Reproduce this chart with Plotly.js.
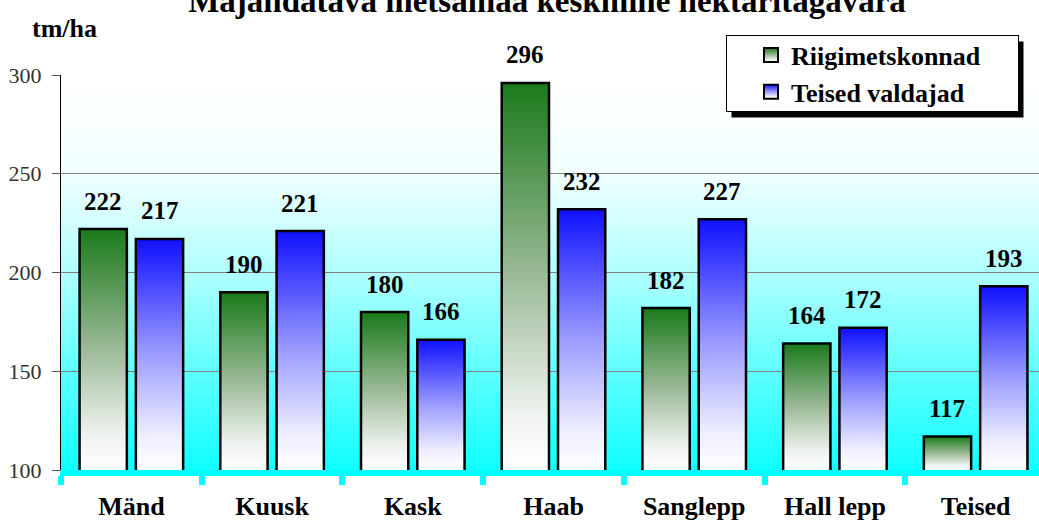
<!DOCTYPE html>
<html>
<head>
<meta charset="utf-8">
<script src="https://cdn.plot.ly/plotly-3.0.1.min.js"></script>
<style>
  html, body { margin: 0; padding: 0; overflow: hidden; background: #fff; }
  #chart { width: 1046px; height: 523px; }
</style>
</head>
<body>
<div id="chart"></div>
<script>
// ---- data ----
const categories = ['Mänd', 'Kuusk', 'Kask', 'Haab', 'Sanglepp', 'Hall lepp', 'Teised'];
const riigimetskonnad = [222, 190, 180, 296, 182, 164, 117];
const teisedValdajad = [217, 221, 166, 232, 227, 172, 193];
const seriesNames = ['Riigimetskonnad', 'Teised valdajad'];
const chartTitle = 'Majandatava metsamaa keskmine hektaritagavara';
const yUnit = 'tm/ha';
const yTicks = [100, 150, 200, 250, 300];

// ---- layout constants ----
const FONT = 'Liberation Serif, Liberation Sans, sans-serif';
const W = 1046, H = 523;
const M = { l: 61, r: 0, t: 75, b: 53 };
const BARGAP = 0.2, BARGROUPGAP = 0.16;
const plotW = W - M.l - M.r;
const plotH = H - M.t - M.b;
const catW = plotW / categories.length;
const groupShift = (1 - BARGAP) * catW / 4;

const seriesValues = [riigimetskonnad, teisedValdajad];

const traces = seriesValues.map((vals, s) => ({
  type: 'bar',
  name: seriesNames[s],
  x: categories,
  y: vals,
  marker: { color: s === 0 ? '#1e7d1e' : '#1414ff', line: { color: '#000', width: 2.5 } },
  hoverinfo: 'skip'
}));

const annotations = [];
seriesValues.forEach((vals, s) => {
  vals.forEach((v, i) => {
    annotations.push({
      x: categories[i], y: v, xref: 'x', yref: 'y',
      text: String(v), showarrow: false,
      xshift: s === 0 ? -groupShift : groupShift,
      yshift: 28, yanchor: 'middle', xanchor: 'center',
      font: { family: FONT, size: 25, weight: 'bold', color: '#000' }
    });
  });
});
annotations.push({
  xref: 'paper', yref: 'paper', x: (30 - M.l) / plotW, y: 1 + (M.t - 28) / plotH,
  xanchor: 'left', yanchor: 'middle', showarrow: false, text: yUnit,
  font: { family: FONT, size: 26, weight: 'bold', color: '#000' }
});

const layout = {
  width: W, height: H,
  margin: M,
  paper_bgcolor: '#ffffff',
  plot_bgcolor: '#7fffff',
  barmode: 'group',
  bargap: BARGAP,
  bargroupgap: BARGROUPGAP,
  font: { family: FONT, color: '#000' },
  title: {
    text: chartTitle,
    font: { family: FONT, size: 33, weight: 'bold', color: '#000' },
    x: 547 / W, xref: 'container', xanchor: 'center',
    y: 1, yref: 'container', yanchor: 'middle'
  },
  xaxis: {
    type: 'category',
    showline: true, linecolor: '#00ffff', linewidth: 6,
    ticks: 'outside', tickson: 'boundaries', tickcolor: '#00ffff', tickwidth: 6, ticklen: 9,
    showgrid: false,
    tickfont: { family: FONT, size: 26, weight: 'bold', color: '#000' },
    ticklabelstandoff: 8,
    fixedrange: true
  },
  yaxis: {
    range: [100, 300],
    tickvals: yTicks,
    showline: true, linecolor: '#000', linewidth: 1,
    ticks: 'outside', ticklen: 8, tickcolor: '#555', tickwidth: 1,
    showgrid: true, gridcolor: '#808080', gridwidth: 1,
    zeroline: false,
    tickfont: { family: FONT, size: 22, color: '#333' },
    ticklabelstandoff: 6,
    fixedrange: true
  },
  showlegend: true,
  legend: {
    x: (726 - M.l) / plotW, y: 1 + (M.t - 35) / plotH,
    xanchor: 'left', yanchor: 'top',
    bgcolor: '#ffffff', bordercolor: '#000', borderwidth: 1,
    font: { family: FONT, size: 26, weight: 'bold', color: '#000' },
    traceorder: 'normal'
  },
  annotations: annotations
};

const NS = 'http://www.w3.org/2000/svg';
function makeGrad(defs, id, stops, user) {
  const g = document.createElementNS(NS, 'linearGradient');
  g.setAttribute('id', id);
  if (user) {
    g.setAttribute('gradientUnits', 'userSpaceOnUse');
    g.setAttribute('x1', 0); g.setAttribute('y1', user[0]);
    g.setAttribute('x2', 0); g.setAttribute('y2', user[1]);
  } else {
    g.setAttribute('x1', '0'); g.setAttribute('y1', '0');
    g.setAttribute('x2', '0'); g.setAttribute('y2', '1');
  }
  stops.forEach(([o, c]) => {
    const s = document.createElementNS(NS, 'stop');
    s.setAttribute('offset', o);
    s.setAttribute('stop-color', c);
    g.appendChild(s);
  });
  defs.appendChild(g);
}

const GREEN_STOPS = [[0, '#1a7a1a'], [0.5, '#9cba98'], [0.85, '#eef2ee'], [1, '#ffffff']];
const BLUE_STOPS = [[0, '#1010ff'], [0.5, '#9c9cff'], [0.85, '#eeeeff'], [1, '#ffffff']];
const BG_STOPS = [[0, '#ffffff'], [0.25, '#f2ffff'], [0.5, '#b0ffff'], [0.75, '#60ffff'], [1, '#10ffff']];

function decorate(gd) {
  const svg = gd.querySelector('.main-svg');
  let defs = svg.querySelector('defs');
  if (!defs) { defs = document.createElementNS(NS, 'defs'); svg.insertBefore(defs, svg.firstChild); }
  const stopsBySeries = [GREEN_STOPS, BLUE_STOPS];
  makeGrad(defs, 'gradLeg0', GREEN_STOPS);
  makeGrad(defs, 'gradLeg1', BLUE_STOPS);
  makeGrad(defs, 'gradBg', BG_STOPS);
  const bottom = gd._fullLayout.yaxis._length;

  gd.querySelectorAll('.barlayer .trace').forEach((t, s) => {
    t.querySelectorAll('.point path').forEach((p, i) => {
      const bb = p.getBBox();
      const id = 'gb_' + s + '_' + i;
      makeGrad(defs, id, stopsBySeries[s % 2], [bb.y, bottom]);
      p.style.fill = 'url(#' + id + ')';
    });
  });

  const bg = gd.querySelector('.bglayer .bg');
  if (bg) bg.style.fill = 'url(#gradBg)';

  const leg = gd.querySelector('.legend');
  if (leg) {
    const DX = 24, DY = -4.5, LW = 292, LH = 76;
    leg.querySelectorAll('.traces').forEach((t, i) => {
      t.querySelectorAll('.legendpoints path').forEach(p => {
        p.setAttribute('d', 'M7,7H-7V-7H7Z');
        p.style.fill = 'url(#gradLeg' + (i % 2) + ')';
        p.style.stroke = '#000';
        p.style.strokeWidth = '2px';
      });
      const tr = t.getAttribute('transform') || '';
      const m = tr.match(/translate\(\s*([-\d.]+)[ ,]+([-\d.]+)\s*\)/);
      if (m) t.setAttribute('transform', 'translate(' + (parseFloat(m[1]) + DX) + ',' + (parseFloat(m[2]) + DY) + ')');
    });
    const sb = leg.querySelector('.scrollbox');
    if (sb) sb.removeAttribute('clip-path');
    const lbg = leg.querySelector('rect.bg');
    if (lbg) {
      lbg.setAttribute('width', LW);
      lbg.setAttribute('height', LH);
      const bb = lbg.getBBox();
      const sh = document.createElementNS(NS, 'rect');
      sh.setAttribute('x', bb.x + 5);
      sh.setAttribute('y', bb.y + 6);
      sh.setAttribute('width', bb.width);
      sh.setAttribute('height', bb.height);
      sh.setAttribute('fill', '#000');
      lbg.parentNode.insertBefore(sh, lbg);
    }
  }
}

Plotly.newPlot('chart', traces, layout, { displayModeBar: false, staticPlot: true })
  .then(gd => decorate(gd));
</script>
</body>
</html>
